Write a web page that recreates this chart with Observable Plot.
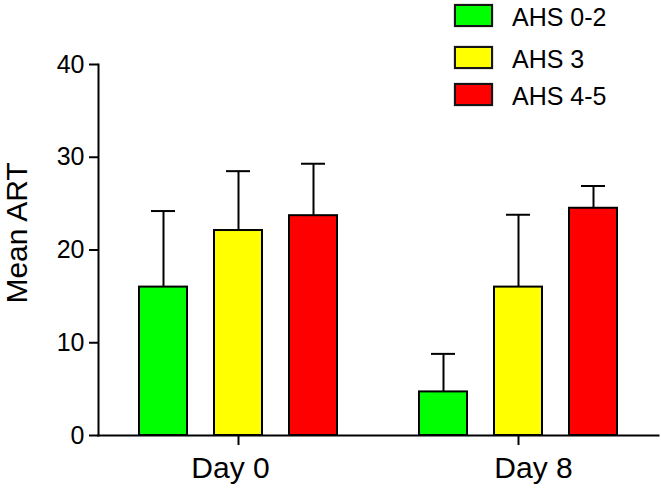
<!DOCTYPE html>
<html><head><meta charset="utf-8">
<script src="https://cdn.jsdelivr.net/npm/d3@7"></script>
<script src="https://cdn.jsdelivr.net/npm/@observablehq/plot@0.6"></script>
<style>
body{margin:0;background:#fff;}
#wrap{position:relative;width:661px;height:491px;font-family:"Liberation Sans",Arial,sans-serif;color:#000;}
#legend{position:absolute;left:454px;top:4px;}
.row{position:relative;}
.sw{position:absolute;left:0;top:0;width:35px;height:19px;border:2px solid #151515;box-shadow:0 0 1px #555;}
.lab{position:absolute;left:58px;top:-2px;font-size:25px;line-height:30px;white-space:nowrap;}
</style></head><body><div id="wrap"></div>
<script>
const days = ["Day 0", "Day 8"];
const groups = ["AHS 0-2", "AHS 3", "AHS 4-5"];
const colors = ["#00ff00", "#ffff00", "#ff0000"];
const meanDay0 = [16.0, 22.1, 23.7];
const meanDay8 = [4.7, 16.0, 24.5];
const sdDay0 = [8.2, 6.4, 5.6];
const sdDay8 = [4.1, 7.8, 2.4];
const yTicks = [0, 10, 20, 30, 40];
const yLabel = "Mean ART";

const data = [];
days.forEach((d, i) => {
  const m = i ? meanDay8 : meanDay0;
  const s = i ? sdDay8 : sdDay0;
  groups.forEach((g, j) => data.push({day: d, group: g, mean: m[j], hi: m[j] + s[j]}));
});

const chart = Plot.plot({
  width: 661, height: 491,
  marginLeft: 97, marginRight: 3, marginTop: 64, marginBottom: 56,
  style: {fontFamily: "Liberation Sans, Arial, sans-serif", fontSize: "25px", color: "#000", background: "#fff", overflow: "visible"},
  fx: {domain: days, paddingInner: 0, paddingOuter: 0, label: null, axis: null},
  x: {domain: groups, paddingInner: 0.304, paddingOuter: 0.501, axis: null},
  y: {domain: [0, 40], label: null},
  color: {domain: groups, range: colors},
  marks: [
    Plot.barY(data, {fx: "day", x: "group", y: "mean", fill: "group", stroke: "#000", strokeWidth: 2, insetLeft: 2, insetRight: 2}),
    Plot.ruleX(data, {fx: "day", x: "group", y1: "mean", y2: "hi", stroke: "#000", strokeWidth: 2}),
    Plot.tickY(data, {fx: "day", x: "group", y: "hi", stroke: "#000", strokeWidth: 2, insetLeft: 14, insetRight: 14}),
    Plot.frame({anchor: "left", facet: "super", stroke: "#000", strokeWidth: 2}),
    Plot.frame({anchor: "bottom", facet: "super", stroke: "#000", strokeWidth: 2}),
    Plot.axisY({ticks: yTicks, tickSize: 9, tickPadding: 5, strokeWidth: 2, label: null}),
    Plot.text([yLabel], {frameAnchor: "left", facet: "super", rotate: -90, dx: -81, dy: -17, lineAnchor: "middle", textAnchor: "middle", fontSize: 30}),
    Plot.axisFx({anchor: "bottom", tickSize: 10, fill: "none", strokeWidth: 2, label: null}),
    Plot.axisFx({anchor: "bottom", ticks: [days[0]], tickSize: 0, tickPadding: 21, dx: -8, fontSize: 30, label: null}),
    Plot.axisFx({anchor: "bottom", ticks: [days[1]], tickSize: 0, tickPadding: 21, dx: 15, fontSize: 30, label: null})
  ]
});
const wrap = document.getElementById("wrap");
wrap.appendChild(chart);

const rowHeights = [42, 37, 30];
const legend = document.createElement("div");
legend.id = "legend";
groups.forEach((g, i) => {
  const row = document.createElement("div");
  row.className = "row";
  row.style.height = rowHeights[i] + "px";
  const sw = document.createElement("div");
  sw.className = "sw";
  sw.style.background = colors[i];
  const lab = document.createElement("div");
  lab.className = "lab";
  lab.textContent = g;
  row.appendChild(sw); row.appendChild(lab);
  legend.appendChild(row);
});
wrap.appendChild(legend);
</script>
</body></html>
